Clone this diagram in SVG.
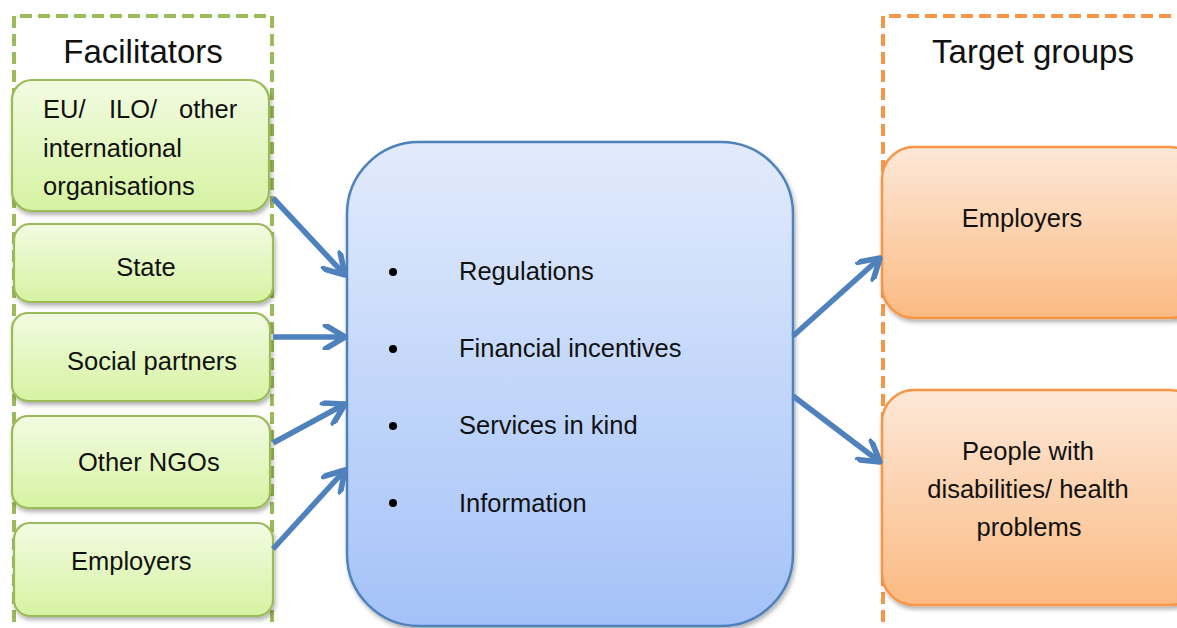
<svg xmlns="http://www.w3.org/2000/svg" width="1177" height="628" viewBox="0 0 1177 628">
<style>
  text { font-family: "Liberation Sans", Arial, sans-serif; fill: #111; }
  .title { font-size: 33px; text-anchor: middle; }
  .lbl { font-size: 25.5px; }
  .mid { text-anchor: middle; }
  .green { fill: url(#gGreen); stroke: #9bbb59; stroke-width: 2.2; filter: url(#sh); }
  .orange { fill: url(#gOrange); stroke: #f79646; stroke-width: 2.5; filter: url(#sh); }
  .cont { fill: none; stroke-width: 4; stroke-dasharray: 12 6; }
  .conn { stroke: #4f81bd; stroke-width: 5.5; fill: none; marker-end: url(#arr); }
</style>
<defs>
  <linearGradient id="gGreen" x1="0" y1="0" x2="0" y2="1">
    <stop offset="0" stop-color="#f2fbe2"/>
    <stop offset="1" stop-color="#d6f3a2"/>
  </linearGradient>
  <linearGradient id="gOrange" x1="0" y1="0" x2="0" y2="1">
    <stop offset="0" stop-color="#fde8d8"/>
    <stop offset="1" stop-color="#fbba82"/>
  </linearGradient>
  <linearGradient id="gBlue" x1="0" y1="0" x2="0" y2="1">
    <stop offset="0" stop-color="#e2ebfc"/>
    <stop offset="1" stop-color="#a4c2f8"/>
  </linearGradient>
  <filter id="sh" x="-10%" y="-10%" width="120%" height="130%">
    <feDropShadow dx="1.5" dy="3" stdDeviation="2" flood-color="#000" flood-opacity="0.3"/>
  </filter>
  <marker id="arr" viewBox="0 0 20 20" refX="18" refY="10" markerWidth="26" markerHeight="26" markerUnits="userSpaceOnUse" orient="auto">
    <path d="M3,1 L18,10 L3,19" fill="none" stroke="#4f81bd" stroke-width="4.4" stroke-linecap="round" stroke-linejoin="round"/>
  </marker>
</defs>
<rect width="1177" height="628" fill="#fff"/>

<g id="facilitators-container">
  <path class="cont" stroke="#9bbb59" d="M14,640 L14,16 L272,16 L272,640"/>
  <text class="title" x="143" y="63">Facilitators</text>
</g>
<g id="target-container">
  <path class="cont" stroke="#f79646" d="M883,640 L883,16 L1190,16"/>
  <text class="title" x="1033" y="63">Target groups</text>
</g>

<g id="node-eu">
  <rect class="green" x="12" y="80" width="257" height="131" rx="20"/>
  <text class="lbl" y="118"><tspan x="43">EU/</tspan><tspan x="109">ILO/</tspan><tspan x="179">other</tspan></text>
  <text class="lbl" x="43" y="157">international</text>
  <text class="lbl" x="43" y="195">organisations</text>
</g>
<g id="node-state">
  <rect class="green" x="14" y="224" width="259" height="78" rx="16"/>
  <text class="lbl mid" x="146" y="276">State</text>
</g>
<g id="node-social">
  <rect class="green" x="12" y="313" width="258" height="88" rx="16"/>
  <text class="lbl" x="67" y="370">Social partners</text>
</g>
<g id="node-ngos">
  <rect class="green" x="12" y="416" width="258" height="92" rx="16"/>
  <text class="lbl" x="78" y="471">Other NGOs</text>
</g>
<g id="node-employers-left">
  <rect class="green" x="14" y="523" width="259" height="93" rx="16"/>
  <text class="lbl" x="71" y="570">Employers</text>
</g>

<g id="node-instruments">
  <rect x="347" y="142" width="446" height="484" rx="72" fill="url(#gBlue)" stroke="#4f81bd" stroke-width="2.5" filter="url(#sh)"/>
  <g fill="#000">
    <circle cx="393" cy="272" r="4"/>
    <circle cx="393" cy="349" r="4"/>
    <circle cx="393" cy="426" r="4"/>
    <circle cx="393" cy="503" r="4"/>
  </g>
  <text class="lbl" x="459" y="280">Regulations</text>
  <text class="lbl" x="459" y="357">Financial incentives</text>
  <text class="lbl" x="459" y="434">Services in kind</text>
  <text class="lbl" x="459" y="512">Information</text>
</g>

<g id="node-employers-right">
  <rect class="orange" x="882" y="147" width="320" height="171" rx="32"/>
  <text class="lbl mid" x="1022" y="227">Employers</text>
</g>
<g id="node-people">
  <rect class="orange" x="882" y="390" width="320" height="215" rx="32"/>
  <text class="lbl mid" x="1028" y="460">People with</text>
  <text class="lbl mid" x="1028" y="498">disabilities/ health</text>
  <text class="lbl mid" x="1029" y="536">problems</text>
</g>

<g id="connectors">
  <line class="conn" x1="273" y1="198" x2="345" y2="275"/>
  <line class="conn" x1="273" y1="337" x2="345" y2="337"/>
  <line class="conn" x1="273" y1="443" x2="345" y2="404"/>
  <line class="conn" x1="273" y1="549" x2="345" y2="470"/>
  <line class="conn" x1="793" y1="336" x2="880" y2="258"/>
  <line class="conn" x1="793" y1="396" x2="880" y2="462"/>
</g>
</svg>
